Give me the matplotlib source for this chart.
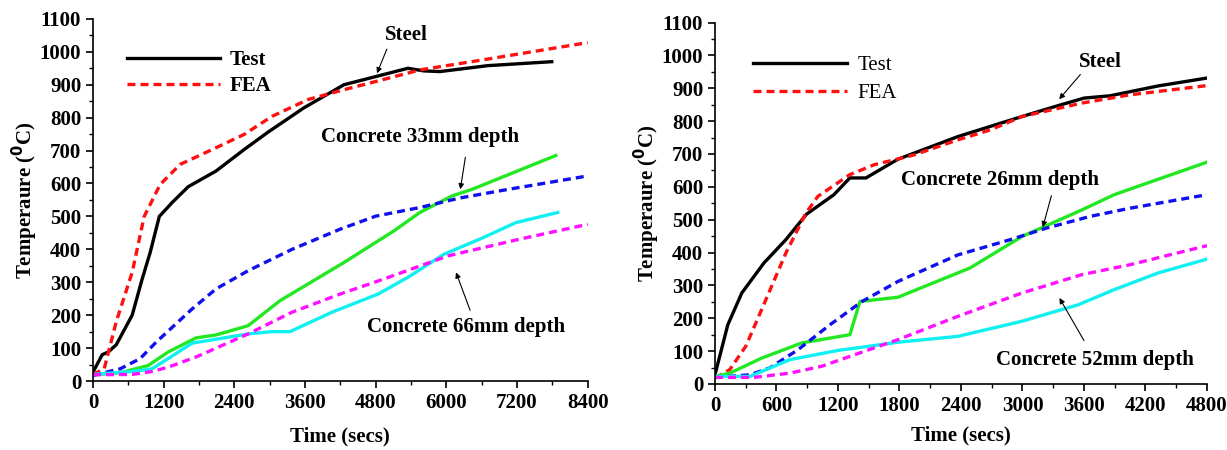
import matplotlib
matplotlib.use("Agg")
import matplotlib.pyplot as plt
from matplotlib.ticker import MultipleLocator

plt.rcParams['font.family'] = ['Liberation Serif', 'DejaVu Serif']
plt.rcParams['font.weight'] = 'bold'

# ---------------- Left panel data ----------------
L_test_t = [0, 156, 258, 394, 665, 835, 970, 1126, 1343, 1615, 2090, 2565, 2972, 3582, 4261, 4804, 5347, 5618, 5890, 6703, 7789]
L_test_T = [27, 80, 88, 110, 200, 310, 390, 500, 542, 590, 638, 703, 756, 830, 900, 925, 950, 942, 940, 958, 970]
L_fea_t = [0, 190, 394, 665, 869, 1140, 1479, 2022, 2565, 3040, 3650, 4261, 4804, 5550, 6703, 8400]
L_fea_T = [20, 37, 180, 330, 500, 597, 658, 703, 749, 804, 855, 885, 910, 945, 978, 1028]
L_c1_test_t = [0, 461, 936, 1275, 1750, 2090, 2633, 3175, 4261, 5109, 5550, 6093, 6432, 7857]
L_c1_test_T = [19, 25, 47, 88, 131, 140, 168, 244, 360, 456, 512, 562, 582, 685]
L_c1_fea_t = [0, 461, 800, 1072, 1683, 2090, 2633, 3379, 4193, 4804, 5550, 6229, 7043, 8400]
L_c1_fea_T = [17, 37, 68, 118, 219, 280, 335, 400, 461, 501, 527, 556, 582, 623]
L_c2_test_t = [0, 665, 1004, 1683, 2633, 3040, 3345, 4057, 4838, 5347, 5957, 6568, 7178, 7891]
L_c2_test_T = [20, 29, 37, 115, 143, 150, 150, 209, 264, 315, 385, 431, 481, 512]
L_c2_fea_t = [0, 665, 1004, 1275, 1750, 2633, 3379, 4193, 4940, 6025, 7246, 8400]
L_c2_fea_T = [19, 20, 29, 42, 73, 143, 209, 264, 310, 380, 431, 476]

# ---------------- Right panel data ----------------
R_test_t = [0, 125, 262, 477, 691, 894, 1160, 1316, 1473, 1785, 2371, 2996, 3347, 3601, 3855, 4324, 4800]
R_test_T = [28, 180, 277, 368, 439, 517, 576, 627, 627, 684, 753, 814, 847, 870, 877, 907, 931]
R_fea_t = [0, 145, 301, 496, 691, 887, 1004, 1316, 1551, 1941, 2371, 2684, 2996, 3582, 4051, 4800]
R_fea_T = [18, 44, 115, 256, 398, 520, 571, 637, 667, 697, 743, 773, 814, 855, 880, 908]
R_c1_test_t = [0, 145, 457, 848, 1316, 1414, 1785, 2488, 2996, 3582, 3894, 4800]
R_c1_test_T = [23, 33, 79, 125, 150, 251, 264, 353, 449, 530, 576, 675]
R_c1_fea_t = [0, 340, 535, 809, 1121, 1434, 1785, 2371, 2879, 3230, 3660, 4051, 4800]
R_c1_fea_T = [20, 28, 49, 104, 180, 251, 312, 393, 439, 474, 510, 535, 576]
R_c2_test_t = [0, 340, 730, 1199, 1785, 2371, 2996, 3543, 3894, 4324, 4800]
R_c2_test_T = [23, 23, 74, 102, 127, 145, 191, 241, 287, 338, 380]
R_c2_fea_t = [0, 379, 730, 1043, 1316, 1785, 2371, 2996, 3582, 4051, 4800]
R_c2_fea_T = [20, 20, 33, 54, 84, 135, 206, 277, 333, 363, 421]

legend_labels = ["Test", "FEA"]

FS = 15
fig = plt.figure(figsize=(12.27, 4.5), dpi=100)
axL = fig.add_axes([0.0758, 0.1533, 0.4032, 0.8047])
axR = fig.add_axes([0.5827, 0.1467, 0.4010, 0.8033])

LW = 2.4
DASH = (0, (2.4, 1.5))

def style(ax, xmax, xmaj, xmin, xpad):
    ax.set_xlim(0, xmax)
    ax.set_ylim(0, 1100)
    ax.xaxis.set_major_locator(MultipleLocator(xmaj))
    ax.xaxis.set_minor_locator(MultipleLocator(xmin))
    ax.yaxis.set_major_locator(MultipleLocator(100))
    ax.yaxis.set_minor_locator(MultipleLocator(50))
    for s in ['top', 'right']:
        ax.spines[s].set_visible(False)
    for s in ['left', 'bottom']:
        ax.spines[s].set_linewidth(1.2)
    ax.tick_params(which='major', direction='out', length=5, width=1.2, labelsize=FS)
    ax.tick_params(which='minor', direction='out', length=3, width=1.0)
    for lab in ax.get_xticklabels() + ax.get_yticklabels():
        lab.set_fontweight('bold')
    ax.set_xlabel("Time (secs)", fontsize=FS, fontweight='bold', labelpad=xpad)
    ax.set_ylabel("Temperaure ($\\mathbf{^{0}}$C)", fontsize=FS, fontweight='bold', labelpad=0)

def draw(ax, d):
    (tt, tT, ft, fT, c1t, c1T, c1ft, c1fT, c2t, c2T, c2ft, c2fT) = d
    l1, = ax.plot(tt, tT, color='black', lw=LW, solid_joinstyle='miter')
    l2, = ax.plot(ft, fT, color='#ff1010', lw=LW, linestyle=DASH)
    ax.plot(c1t, c1T, color='#22e822', lw=LW)
    ax.plot(c1ft, c1fT, color='#1010ee', lw=LW, linestyle=DASH)
    ax.plot(c2t, c2T, color='#10f0f0', lw=LW)
    ax.plot(c2ft, c2fT, color='#ff10ff', lw=LW, linestyle=DASH)
    return l1, l2

arrow = dict(arrowstyle='-|>', color='black', lw=0.8, mutation_scale=8)

# Left
style(axL, 8400, 1200, 600, 10)
l1, l2 = draw(axL, (L_test_t, L_test_T, L_fea_t, L_fea_T, L_c1_test_t, L_c1_test_T,
                    L_c1_fea_t, L_c1_fea_T, L_c2_test_t, L_c2_test_T, L_c2_fea_t, L_c2_fea_T))
axL.legend([l1, l2], legend_labels, loc='upper left', bbox_to_anchor=(0.03, 0.965),
           frameon=False, handlelength=4.5, prop={'weight': 'bold', 'size': FS},
           labelspacing=0.28, handletextpad=0.45)
axL.text(5313, 1050, "Steel", ha='center', va='center', fontsize=FS, fontweight='bold')
axL.annotate("", xy=(4804, 927), xytext=(5007, 1016), arrowprops=arrow)
axL.text(5550, 742, "Concrete 33mm depth", ha='center', va='center', fontsize=FS, fontweight='bold')
axL.annotate("", xy=(6229, 574), xytext=(6330, 688), arrowprops=arrow)
axL.text(6330, 163, "Concrete 66mm depth", ha='center', va='center', fontsize=FS, fontweight='bold')
axL.annotate("", xy=(6147, 338), xytext=(6419, 207), arrowprops=arrow)

# Right
style(axR, 4800, 600, 300, 7)
r1, r2 = draw(axR, (R_test_t, R_test_T, R_fea_t, R_fea_T, R_c1_test_t, R_c1_test_T,
                    R_c1_fea_t, R_c1_fea_T, R_c2_test_t, R_c2_test_T, R_c2_fea_t, R_c2_fea_T))
axR.legend([r1, r2], legend_labels, loc='upper left', bbox_to_anchor=(0.04, 0.96),
           frameon=False, handlelength=4.5, prop={'weight': 'normal', 'size': FS},
           labelspacing=0.38, handletextpad=0.5)
axR.text(3758, 980, "Steel", ha='center', va='center', fontsize=FS, fontweight='bold')
axR.annotate("", xy=(3340, 860), xytext=(3582, 948), arrowprops=arrow)
axR.text(2781, 621, "Concrete 26mm depth", ha='center', va='center', fontsize=FS, fontweight='bold')
axR.annotate("", xy=(3191, 469), xytext=(3289, 581), arrowprops=arrow)
axR.text(3707, 74, "Concrete 52mm depth", ha='center', va='center', fontsize=FS, fontweight='bold')
axR.annotate("", xy=(3347, 269), xytext=(3613, 125), arrowprops=arrow)

fig.savefig("out.png", dpi=100)
